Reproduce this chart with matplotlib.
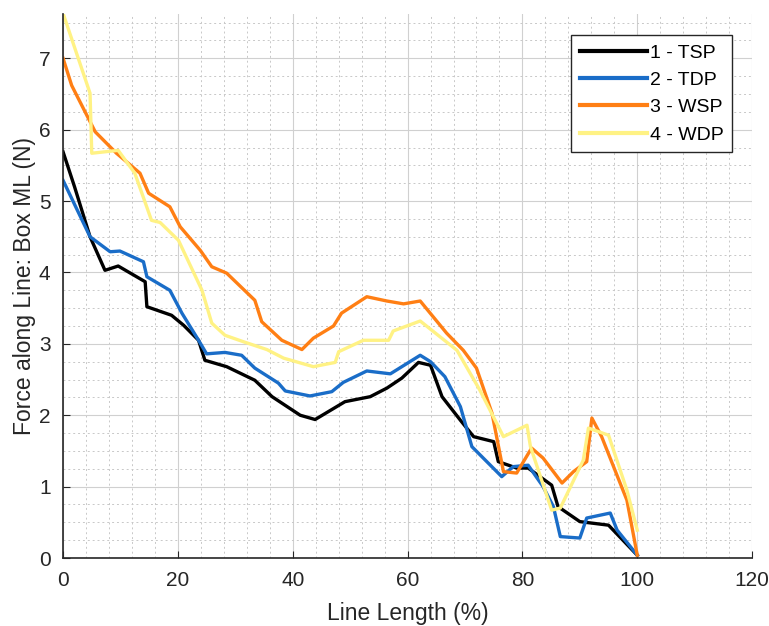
import matplotlib.pyplot as plt
from matplotlib.ticker import MultipleLocator

plt.rcParams['font.family'] = ['Liberation Sans', 'DejaVu Sans']

tsp_x = [0, 2, 4.7, 7.3, 9.6, 14.3, 14.6, 18.9, 21, 23.6, 24.7, 28.5, 33.4, 36.4,
         41.3, 43.9, 49.1, 53.5, 56.4, 59, 61.9, 64, 66, 69.2, 71.5, 75, 75.8,
         79, 81, 85.1, 86.2, 90, 95, 100]
tsp_y = [5.69, 5.2, 4.5, 4.03, 4.09, 3.87, 3.52, 3.40, 3.26, 3.05, 2.77, 2.68, 2.49,
         2.26, 2.0, 1.94, 2.19, 2.26, 2.38, 2.52, 2.74, 2.70, 2.26, 1.93, 1.70,
         1.63, 1.35, 1.26, 1.26, 1.02, 0.72, 0.51, 0.46, 0.04]

tdp_x = [0, 4.7, 8.2, 9.9, 14, 14.6, 18.6, 20.7, 23.6, 25, 28.2, 31.1, 33.4, 37.5,
         38.7, 43, 46.8, 48.8, 52.9, 57, 62.2, 64, 66.5, 69.2, 71.2, 76.4, 78.4,
         81, 83.6, 85.4, 86.6, 90, 91.2, 95.3, 96.5, 100]
tdp_y = [5.29, 4.5, 4.29, 4.30, 4.15, 3.94, 3.75, 3.43, 3.05, 2.86, 2.88, 2.84, 2.66,
         2.45, 2.34, 2.27, 2.33, 2.46, 2.62, 2.58, 2.84, 2.75, 2.54, 2.12, 1.56,
         1.14, 1.28, 1.30, 1.0, 0.72, 0.30, 0.28, 0.56, 0.63, 0.39, 0.04]

wsp_x = [0, 1.5, 5.6, 9.3, 13.4, 14.9, 18.6, 20.4, 23.9, 25.9, 28.5, 33.4, 34.6,
         38.1, 41.6, 43.6, 47.1, 48.5, 52.9, 56.4, 59.3, 62.2, 66.8, 69.7, 72,
         74.7, 76.7, 79, 81.6, 83.6, 86.9, 88.9, 91.2, 92.1, 93.8, 98.2, 100]
wsp_y = [7.0, 6.62, 5.97, 5.67, 5.39, 5.11, 4.92, 4.64, 4.31, 4.08, 3.99, 3.61, 3.31,
         3.05, 2.92, 3.08, 3.25, 3.43, 3.66, 3.60, 3.56, 3.60, 3.15, 2.91, 2.66,
         2.03, 1.21, 1.19, 1.54, 1.40, 1.05, 1.21, 1.35, 1.96, 1.70, 0.81, 0.04]

wdp_x = [0, 4.7, 5, 9.6, 12.5, 15.4, 16.9, 20.1, 24.2, 25.9, 28.2, 31.4, 35.5,
         38.4, 43.6, 47.4, 48, 52.3, 56.7, 57.5, 62.2, 68.6, 72.6, 76.7, 80.8,
         81.4, 85.1, 86.6, 90.6, 91.5, 95, 98.2, 100]
wdp_y = [7.63, 6.51, 5.67, 5.71, 5.39, 4.73, 4.70, 4.45, 3.75, 3.29, 3.12, 3.03, 2.92,
         2.80, 2.68, 2.74, 2.89, 3.05, 3.05, 3.18, 3.32, 2.91, 2.35, 1.70, 1.86,
         1.56, 0.67, 0.70, 1.37, 1.82, 1.72, 0.95, 0.39]

labels = ['1 - TSP', '2 - TDP', '3 - WSP', '4 - WDP']
colors = ['#000000', '#1a6dc8', '#ff7f14', '#fff284']

fig = plt.figure(figsize=(7.69, 6.26), dpi=100)
ax = fig.add_axes([0.082, 0.1086, 0.896, 0.869])

series = [(tsp_x, tsp_y), (tdp_x, tdp_y), (wsp_x, wsp_y), (wdp_x, wdp_y)]
for (xs, ys), lab, col in zip(series, labels, colors):
    ax.plot(xs, ys, color=col, lw=2.4, label=lab)

ax.set_xlim(0, 120)
ax.set_ylim(0, 7.62)
ax.xaxis.set_major_locator(MultipleLocator(20))
ax.xaxis.set_minor_locator(MultipleLocator(4))
ax.yaxis.set_major_locator(MultipleLocator(1))
ax.yaxis.set_minor_locator(MultipleLocator(0.25))

ax.grid(which='major', color='#d0d0d0', lw=0.8)
ax.grid(which='minor', color='#c8c8c8', lw=0.7, ls=(0, (2, 3)))
ax.set_axisbelow(True)

for side in ['top', 'right']:
    ax.spines[side].set_visible(False)
for side in ['left', 'bottom']:
    ax.spines[side].set_color('#262626')
    ax.spines[side].set_linewidth(1.2)

ax.tick_params(which='major', direction='in', length=5, labelsize=15,
               colors='#262626', pad=9)
ax.tick_params(which='minor', length=0)

ax.set_xlabel('Line Length (%)', fontsize=16.5, color='#262626', labelpad=9)
ax.set_ylabel('Force along Line: Box ML (N)', fontsize=16.5, color='#262626',
              labelpad=2)

leg = ax.legend(loc='upper right', bbox_to_anchor=(0.971, 0.961), fontsize=14,
                handlelength=3.45, handletextpad=0.15, labelspacing=0.5,
                fancybox=False, framealpha=1, borderpad=0.45,
                borderaxespad=0)
leg.get_frame().set_edgecolor('#262626')
leg.get_frame().set_linewidth(1.0)
for h in leg.get_lines():
    h.set_linewidth(3)

fig.savefig('out.png', dpi=100)
